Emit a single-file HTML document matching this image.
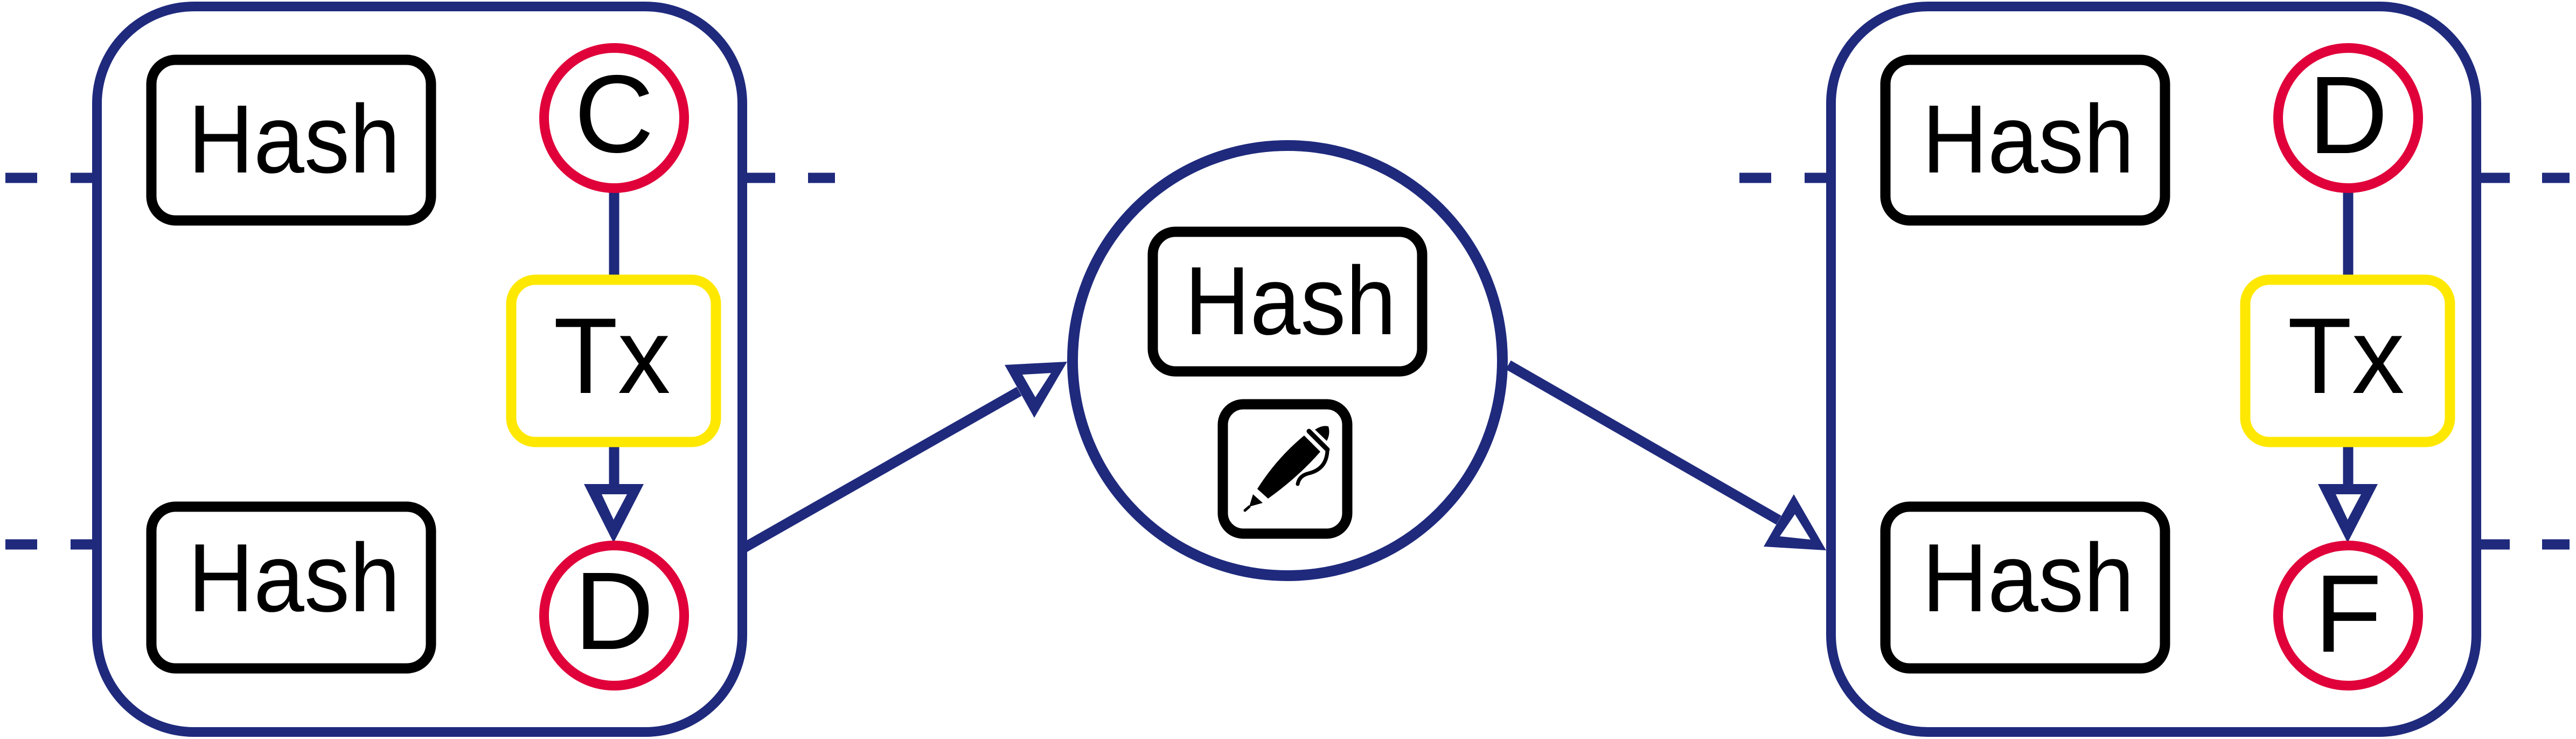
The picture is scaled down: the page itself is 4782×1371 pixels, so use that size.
<!DOCTYPE html>
<html><head><meta charset="utf-8"><style>
html,body{margin:0;padding:0;background:#fff;}
svg{display:block;}
text{font-family:"Liberation Sans",Arial,sans-serif;fill:#000;}
</style></head><body>
<svg width="4782" height="1371" viewBox="0 0 4782 1371" xmlns="http://www.w3.org/2000/svg">
<defs>
<g id="blk">
  <rect x="180" y="12" width="1198" height="1346" rx="180" ry="180" fill="#fff" stroke="#1f2a7d" stroke-width="18"/>
  <rect x="281" y="111" width="519" height="298" rx="45" fill="#fff" stroke="#000" stroke-width="19"/>
  <rect x="281" y="940" width="519" height="300" rx="45" fill="#fff" stroke="#000" stroke-width="19"/>
  <line x1="1140" y1="355" x2="1140" y2="512" stroke="#1f2a7d" stroke-width="19"/>
  <line x1="1140" y1="827" x2="1140" y2="905" stroke="#1f2a7d" stroke-width="19"/>
  <polygon points="1084,898 1195,898 1139,1007" fill="#1f2a7d"/>
  <polygon points="1117,917 1164,917 1139,964" fill="#fff"/>
  <rect x="949" y="519" width="380" height="301" rx="45" fill="#fff" stroke="#ffe800" stroke-width="19"/>
</g>
</defs>

<!-- dashes -->
<g stroke="#1f2a7d" stroke-width="19" fill="none">
  <line x1="10" y1="330" x2="69" y2="330"/>
  <line x1="131" y1="330" x2="180" y2="330"/>
  <line x1="1380" y1="330" x2="1439" y2="330"/>
  <line x1="1500" y1="330" x2="1550" y2="330"/>
  <line x1="10" y1="1010" x2="69" y2="1010"/>
  <line x1="131" y1="1010" x2="180" y2="1010"/>
  <line x1="3229" y1="330" x2="3288" y2="330"/>
  <line x1="3350" y1="330" x2="3399" y2="330"/>
  <line x1="4598" y1="330" x2="4659" y2="330"/>
  <line x1="4719" y1="330" x2="4770" y2="330"/>
  <line x1="4598" y1="1010" x2="4659" y2="1010"/>
  <line x1="4719" y1="1010" x2="4770" y2="1010"/>
</g>

<!-- left block -->
<use href="#blk"/>
<circle cx="1140" cy="219" r="130" fill="#fff" stroke="#e0003a" stroke-width="18"/>
<circle cx="1140" cy="1142" r="130" fill="#fff" stroke="#e0003a" stroke-width="18"/>
<text x="349" y="320" font-size="180" textLength="394" lengthAdjust="spacingAndGlyphs">Hash</text>
<text x="349" y="1134" font-size="180" textLength="394" lengthAdjust="spacingAndGlyphs">Hash</text>
<text x="1140" y="282" font-size="205" text-anchor="middle">C</text>
<text x="1140" y="1204" font-size="205" text-anchor="middle">D</text>
<text x="1136" y="729" font-size="200" text-anchor="middle" textLength="217" lengthAdjust="spacingAndGlyphs">Tx</text>

<!-- right block -->
<g transform="translate(3219,0)">
<use href="#blk"/>
<circle cx="1140" cy="219" r="130" fill="#fff" stroke="#e0003a" stroke-width="18"/>
<circle cx="1140" cy="1142" r="130" fill="#fff" stroke="#e0003a" stroke-width="18"/>
<text x="349" y="320" font-size="180" textLength="394" lengthAdjust="spacingAndGlyphs">Hash</text>
<text x="349" y="1134" font-size="180" textLength="394" lengthAdjust="spacingAndGlyphs">Hash</text>
<text x="1140" y="284" font-size="205" text-anchor="middle">D</text>
<text x="1140" y="1209" font-size="205" text-anchor="middle">F</text>
<text x="1136" y="729" font-size="200" text-anchor="middle" textLength="217" lengthAdjust="spacingAndGlyphs">Tx</text>
</g>

<!-- left connector -->
<line x1="1380" y1="1017" x2="1892" y2="726" stroke="#1f2a7d" stroke-width="19"/>
<polygon points="1865,677 1981,671 1920,775" fill="#1f2a7d"/>
<polygon points="1898,695 1951,692 1922,737" fill="#fff"/>

<!-- right connector -->
<line x1="2800" y1="677" x2="3302" y2="965" stroke="#1f2a7d" stroke-width="19"/>
<polygon points="3274,1014 3330,917 3390,1021" fill="#1f2a7d"/>
<polygon points="3304,995 3332,954 3361,1001" fill="#fff"/>

<!-- center circle -->
<circle cx="2390" cy="669" r="399" fill="#fff" stroke="#1f2a7d" stroke-width="20"/>
<rect x="2140" y="430" width="500" height="259" rx="42" fill="#fff" stroke="#000" stroke-width="19"/>
<text x="2199" y="620" font-size="180" textLength="393" lengthAdjust="spacingAndGlyphs">Hash</text>
<rect x="2270" y="750" width="231" height="240" rx="38" fill="#fff" stroke="#000" stroke-width="19"/>
<g fill="#000">
  <path d="M2334,907 Q2370,850 2421,808 L2451,838 Q2410,885 2354,925 Z"/>
  <path d="M2326,917 L2344,933 L2319,940 Z"/>
  <path d="M2441,797 Q2455,788 2466,791 Q2470,805 2463,818 Z"/>
</g>
<g stroke="#000" fill="none" stroke-linecap="round">
  <line x1="2319" y1="940" x2="2311" y2="947" stroke-width="5"/>
  <line x1="2430" y1="800" x2="2464" y2="834" stroke-width="9"/>
  <path d="M2464,837 Q2462,870 2430,878 Q2412,882 2409,898" stroke-width="7"/>
</g>
</svg>
</body></html>
